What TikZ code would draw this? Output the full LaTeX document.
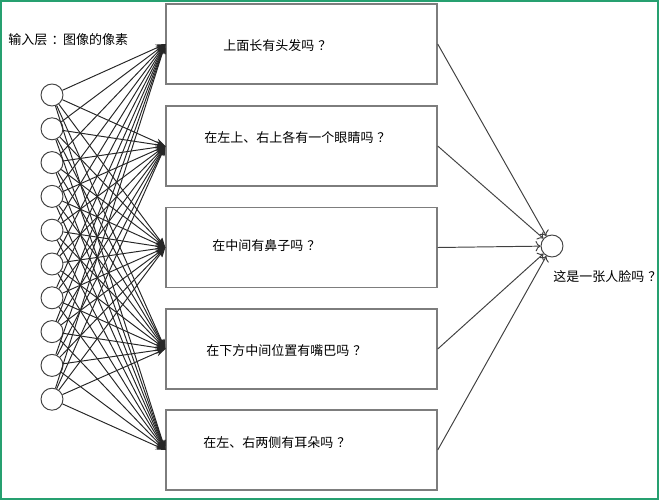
\documentclass[tikz,border=0pt]{standalone}
\usepackage{fontspec}
\newfontfamily\cjk{Noto Sans CJK SC}
\usepackage{xcolor}
\usetikzlibrary{positioning,arrows.meta}
\definecolor{framegreen}{RGB}{38,160,112}
\definecolor{boxgray}{RGB}{125,125,125}
% centred full-width marks
\newcommand{\askmark}{\kern0.3em？}
\newcommand{\colonmark}{\kern0.32em：\kern-0.12em}

\begin{document}
\begin{tikzpicture}[
    x=0.02cm,
    y=-0.02cm,
    >=Stealth,
    line width=0.55pt
]

\tikzstyle{pixel}=[
    circle,
    draw=black!75,
    minimum size=0.44cm,
    inner sep=0pt
]
\tikzstyle{question}=[
    rectangle,
    draw=boxgray,
    line width=0.85pt,
    minimum width=5.42cm,
    minimum height=1.6cm,
    inner sep=0pt
]
\tikzstyle{words}=[
    font=\cjk\fontsize{7.4}{9}\selectfont,
    inner sep=0pt,
    anchor=west
]

\useasboundingbox (0,0) rectangle (659,500);
\draw[framegreen, line width=1.7pt] (1,1) rectangle (658,499);

% input pixels
\foreach \i in {1,...,10}
    \node[pixel] (in\i) at (52,{95+33.8*(\i-1)}) {};
\node[words] (inlabel) at (8,40) {输入层\colonmark 图像的像素};

% question boxes
\node[question] (b1) at (301.5,44) {};
\node[question] (b2) at (301.5,146) {};
\node[question] (b3) at (301.5,247.5) {};
\node[question] (b4) at (301.5,349) {};
\node[question] (b5) at (301.5,450) {};

\node[words] (q1) at (223,46) {上面长有头发吗\askmark};
\node[words] (q2) at (204,138) {在左上、右上各有一个眼睛吗\askmark};
\node[words] (q3) at (212,246) {在中间有鼻子吗\askmark};
\node[words] (q4) at (206,351) {在下方中间位置有嘴巴吗\askmark};
\node[words] (q5) at (203,443) {在左、右两侧有耳朵吗\askmark};

% output
\node[pixel] (face) at (552,246) {};
\node[words] (answer) at (553,277) {这是一张人脸吗\askmark};

\foreach \i in {1,...,10}
    \foreach \j in {1,...,5}
        \draw[->, black!85] (in\i) -- (b\j.west);

\foreach \j in {1,...,5}
    \draw[-{To}, black!75] (b\j.east) -- (face);

\end{tikzpicture}
\end{document}
